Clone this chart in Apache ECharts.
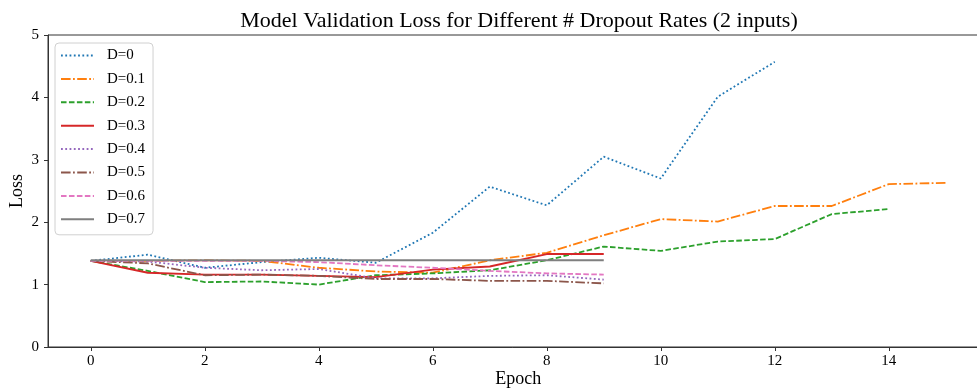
<!DOCTYPE html>
<html>
<head>
<meta charset="utf-8">
<script src="https://cdn.jsdelivr.net/npm/echarts@6/dist/echarts.min.js"></script>
<style>
  html, body { margin: 0; padding: 0; background: #fff; }
  #chart { width: 977px; height: 389px; }
</style>
</head>
<body>
<div id="chart"></div>
<script>
// Validation loss per epoch for each dropout rate
const seriesNames = ['D=0', 'D=0.1', 'D=0.2', 'D=0.3', 'D=0.4', 'D=0.5', 'D=0.6', 'D=0.7'];
const lossD0  = [1.38, 1.48, 1.27, 1.36, 1.43, 1.35, 1.83, 2.57, 2.27, 3.05, 2.70, 4.01, 4.57];
const lossD01 = [1.38, 1.38, 1.39, 1.38, 1.27, 1.21, 1.19, 1.39, 1.51, 1.79, 2.05, 2.01, 2.26, 2.26, 2.61, 2.63];
const lossD02 = [1.38, 1.22, 1.04, 1.05, 1.00, 1.15, 1.18, 1.23, 1.39, 1.61, 1.54, 1.69, 1.73, 2.13, 2.21];
const lossD03 = [1.38, 1.19, 1.16, 1.16, 1.14, 1.12, 1.24, 1.29, 1.49, 1.49];
const lossD04 = [1.38, 1.37, 1.27, 1.23, 1.25, 1.10, 1.10, 1.14, 1.15, 1.08];
const lossD05 = [1.38, 1.34, 1.15, 1.16, 1.14, 1.09, 1.09, 1.06, 1.06, 1.02];
const lossD06 = [1.38, 1.38, 1.38, 1.38, 1.36, 1.31, 1.27, 1.22, 1.18, 1.16];
const lossD07 = [1.39, 1.39, 1.39, 1.39, 1.39, 1.39, 1.39, 1.39, 1.39, 1.39];
const xTickValues = [0, 2, 4, 6, 8, 10, 12, 14];

const allLoss = [lossD0, lossD01, lossD02, lossD03, lossD04, lossD05, lossD06, lossD07];
const colors = ['#1f77b4', '#ff7f0e', '#2ca02c', '#d62728', '#9467bd', '#8c564b', '#e377c2', '#7f7f7f'];

// line width and matplotlib-like dash patterns
const LW = 1.8;
const U = 1.5;
const dotted  = [1 * U + 0.3, 1.65 * U];
const dashed  = [3.7 * U, 1.6 * U];
const dashdot = [6.4 * U, 1.6 * U, 1 * U + 0.3, 1.6 * U];
const dashes = [dotted, dashdot, dashed, 'solid', dotted, dashdot, dashed, 'solid'];

const FONT = '"Liberation Serif", "DejaVu Serif", serif';

const series = allLoss.map((vals, i) => ({
  name: seriesNames[i],
  type: 'line',
  data: vals.map((v, e) => [e, v]),
  symbol: 'none',
  showSymbol: false,
  animation: false,
  lineStyle: { color: colors[i], width: LW, type: dashes[i], cap: 'butt' },
  itemStyle: { color: colors[i] }
}));

const chart = echarts.init(document.getElementById('chart'), null, { renderer: 'canvas' });
chart.setOption({
  animation: false,
  title: {
    text: 'Model Validation Loss for Different # Dropout Rates (2 inputs)',
    left: 514,
    top: 5,
    textAlign: 'center',
    textStyle: { fontFamily: FONT, fontSize: 22, fontWeight: 'normal', color: '#000' }
  },
  legend: {
    orient: 'vertical',
    left: 55,
    top: 43,
    itemWidth: 33,
    itemHeight: 14,
    itemGap: 8.4,
    padding: [5, 8, 8, 5],
    borderColor: '#d0d0d0',
    borderWidth: 1,
    borderRadius: 4,
    backgroundColor: 'rgba(255,255,255,0.8)',
    itemStyle: { opacity: 0 },
    textStyle: { fontFamily: FONT, fontSize: 15, color: '#000', padding: [0, 0, 0, 8] },
    data: seriesNames
  },
  grid: {
    left: 48,
    top: 35,
    height: 312,
    width: 940.5,
    show: true,
    borderColor: '#333',
    borderWidth: 1,
    containLabel: false,
    outerBoundsMode: 'none'
  },
  xAxis: {
    type: 'value',
    min: -0.75,
    max: 15.75,
    name: 'Epoch',
    nameLocation: 'middle',
    nameGap: 23,
    nameMoveOverlap: false,
    nameTextStyle: { fontFamily: FONT, fontSize: 18, color: '#000' },
    splitLine: { show: false },
    axisLine: { show: true, onZero: false, lineStyle: { color: '#333', width: 1 } },
    axisTick: { show: true, length: 4, lineStyle: { color: '#333' }, customValues: xTickValues },
    axisLabel: { fontFamily: FONT, fontSize: 15, color: '#000', margin: 7, customValues: xTickValues }
  },
  yAxis: {
    type: 'value',
    min: 0,
    max: 5,
    interval: 1,
    name: 'Loss',
    nameLocation: 'middle',
    nameRotate: 90,
    nameGap: 22,
    nameMoveOverlap: false,
    nameTextStyle: { fontFamily: FONT, fontSize: 18, color: '#000' },
    splitLine: { show: false },
    axisLine: { show: true, onZero: false, lineStyle: { color: '#333', width: 1 } },
    axisTick: { show: true, length: 4, lineStyle: { color: '#333' } },
    axisLabel: { fontFamily: FONT, fontSize: 15, color: '#000', margin: 9 }
  },
  series: series
});
</script>
</body>
</html>
